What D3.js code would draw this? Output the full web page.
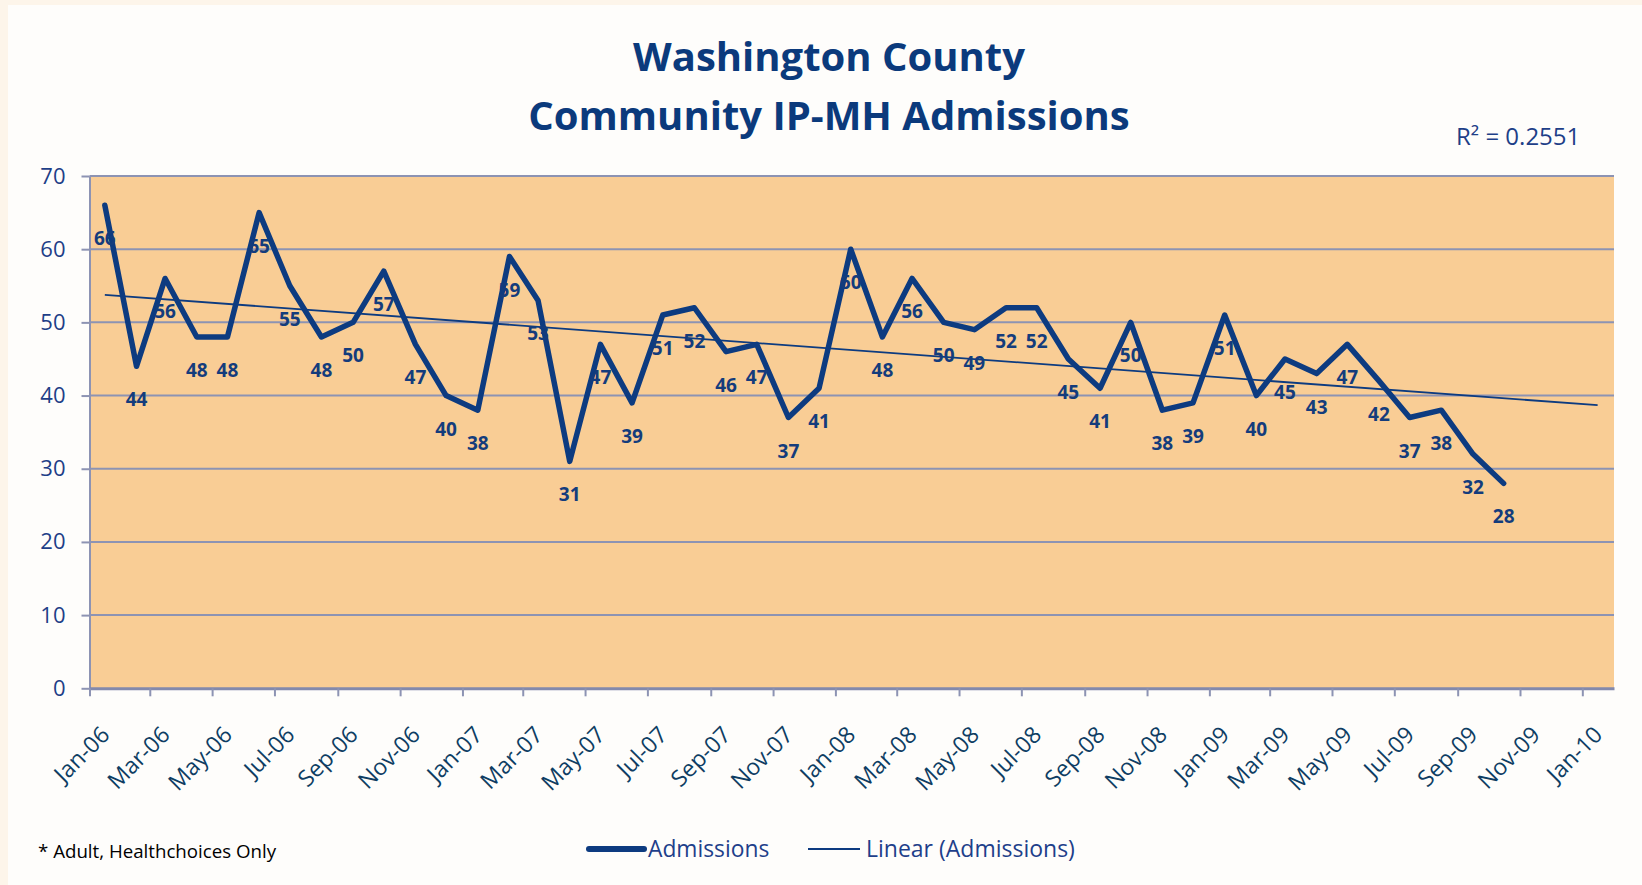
<!DOCTYPE html>
<html><head><meta charset="utf-8">
<script src="https://cdn.jsdelivr.net/npm/d3@7"></script>
<style>body{margin:0;background:#FDF5EA;} svg{display:block}</style>
</head><body><svg id="c" width="1642" height="885"></svg>
<script>
// ---------- data ----------
const titleLines = ["Washington County", "Community IP-MH Admissions"];
const firstMonth = "Jan-06";
const admissions = [66,44,56,48,48,65,55,48,50,57,47,40,
                    38,59,53,31,47,39,51,52,46,47,37,41,
                    60,48,56,50,49,52,52,45,41,50,38,39,
                    51,40,45,43,47,42,37,38,32,28];
const xTickLabels = ["Jan-06","Mar-06","May-06","Jul-06","Sep-06","Nov-06",
                     "Jan-07","Mar-07","May-07","Jul-07","Sep-07","Nov-07",
                     "Jan-08","Mar-08","May-08","Jul-08","Sep-08","Nov-08",
                     "Jan-09","Mar-09","May-09","Jul-09","Sep-09","Nov-09","Jan-10"];
const xDomainLabels = ["Jan-06","Feb-10"];
const yTicks = [0,10,20,30,40,50,60,70];
const rSquaredLabel = "R\u00B2 = 0.2551";
const trendForecastMonths = 3;
const legendLabels = ["Admissions","Linear (Admissions)"];
const footnote = "* Adult, Healthchoices Only";

// ---------- setup ----------
const FONT = "'Open Sans', 'Noto Sans', sans-serif";
const NAVY = "#0D3B80";
const parse = d3.timeParse("%b-%y");
const midMonth = d => d3.timeDay.offset(d, 15);

const svg = d3.select("#c");
svg.append("rect").attr("x",8).attr("y",5).attr("width",1634).attr("height",880).attr("fill","#FEFDFB");

const x = d3.scaleTime().domain(xDomainLabels.map(parse)).range([89.5, 1614]);
const y = d3.scaleLinear().domain([0,70]).range([688.3, 176]);

const start = parse(firstMonth);
const data = admissions.map((v,i) => ({date: midMonth(d3.timeMonth.offset(start, i)), value: v, i}));

// plot background
svg.append("rect").attr("x", x.range()[0]).attr("y", y(70))
  .attr("width", x.range()[1]-x.range()[0]).attr("height", y(0)-y(70)).attr("fill","#F9CD95");

// gridlines
svg.append("g").selectAll("line").data(yTicks.filter(t=>t>0)).join("line")
  .attr("x1", x.range()[0]).attr("x2", x.range()[1])
  .attr("y1", d=>y(d)).attr("y2", d=>y(d))
  .attr("stroke","#8D93B3").attr("stroke-width",2);

// y axis
const yAxis = svg.append("g").attr("transform",`translate(${x.range()[0]},0)`)
  .call(d3.axisLeft(y).tickValues(yTicks).tickSize(8).tickSizeOuter(0).tickPadding(16));
yAxis.select(".domain").attr("stroke","#8D93B3").attr("stroke-width",2);
yAxis.selectAll(".tick line").attr("stroke","#8D93B3").attr("stroke-width",2);
yAxis.selectAll("text").attr("font-family",FONT).attr("font-size",22).attr("fill","#1E3F88");

// x axis
const xAxis = svg.append("g").attr("transform",`translate(0,${y(0)})`)
  .call(d3.axisBottom(x).tickValues(xTickLabels.map(parse)).tickFormat(d3.timeFormat("%b-%y")).tickSize(8).tickSizeOuter(0));
xAxis.select(".domain").attr("stroke","#8389AC").attr("stroke-width",3);
xAxis.selectAll(".tick line").attr("stroke","#8D93B3").attr("stroke-width",2);
xAxis.selectAll("text").attr("font-family",FONT).attr("font-size",23).attr("fill","#0E3D63")
  .attr("x",0).attr("y",0).attr("dy",0).attr("text-anchor","end")
  .attr("transform","translate(21,48) rotate(-45)");

// trend line (least squares on month index)
const n = data.length;
const mx = d3.mean(data, d=>d.i), my = d3.mean(data, d=>d.value);
const slope = d3.sum(data, d=>(d.i-mx)*(d.value-my)) / d3.sum(data, d=>(d.i-mx)**2);
const icpt = my - slope*mx;
const trendPts = [0, n-1+trendForecastMonths].map(i => ({date: midMonth(d3.timeMonth.offset(start,i)), value: icpt+slope*i}));
svg.append("path").datum(trendPts)
  .attr("d", d3.line().x(d=>x(d.date)).y(d=>y(d.value)))
  .attr("fill","none").attr("stroke",NAVY).attr("stroke-width",1.8);

// main line
svg.append("path").datum(data)
  .attr("d", d3.line().x(d=>x(d.date)).y(d=>y(d.value)))
  .attr("fill","none").attr("stroke",NAVY).attr("stroke-width",5.5)
  .attr("stroke-linejoin","round").attr("stroke-linecap","round");

// data labels
svg.append("g").selectAll("text").data(data).join("text")
  .attr("x", d=>x(d.date)).attr("y", d=>y(d.value)+40)
  .attr("text-anchor","middle").attr("font-family",FONT).attr("font-weight",700)
  .attr("font-size",19).attr("fill","#143C7C").text(d=>d.value);

// title
svg.append("g").selectAll("text").data(titleLines).join("text")
  .attr("x",829).attr("y",(d,i)=>71+i*59).attr("text-anchor","middle")
  .attr("font-family",FONT).attr("font-weight",700).attr("font-size",40)
  .attr("fill","#0B3A7C").text(d=>d);

// R squared
svg.append("text").attr("x",1456).attr("y",145).attr("font-family",FONT)
  .attr("font-size",24).attr("fill","#1E3F88").text(rSquaredLabel);

// legend
const lg = svg.append("g");
lg.append("line").attr("x1",589).attr("x2",644).attr("y1",849).attr("y2",849)
  .attr("stroke",NAVY).attr("stroke-width",6).attr("stroke-linecap","round");
lg.append("text").attr("x",648).attr("y",857).attr("font-family",FONT).attr("font-size",22.8)
  .attr("fill","#1E3F8A").text(legendLabels[0]);
lg.append("line").attr("x1",808).attr("x2",860).attr("y1",849).attr("y2",849)
  .attr("stroke",NAVY).attr("stroke-width",2);
lg.append("text").attr("x",866).attr("y",857).attr("font-family",FONT).attr("font-size",23)
  .attr("fill","#1E3F8A").text(legendLabels[1]);

// footnote
svg.append("text").attr("x",38).attr("y",858).attr("font-family",FONT).attr("font-size",18.7)
  .attr("fill","#000").text(footnote);
</script>
</body></html>
